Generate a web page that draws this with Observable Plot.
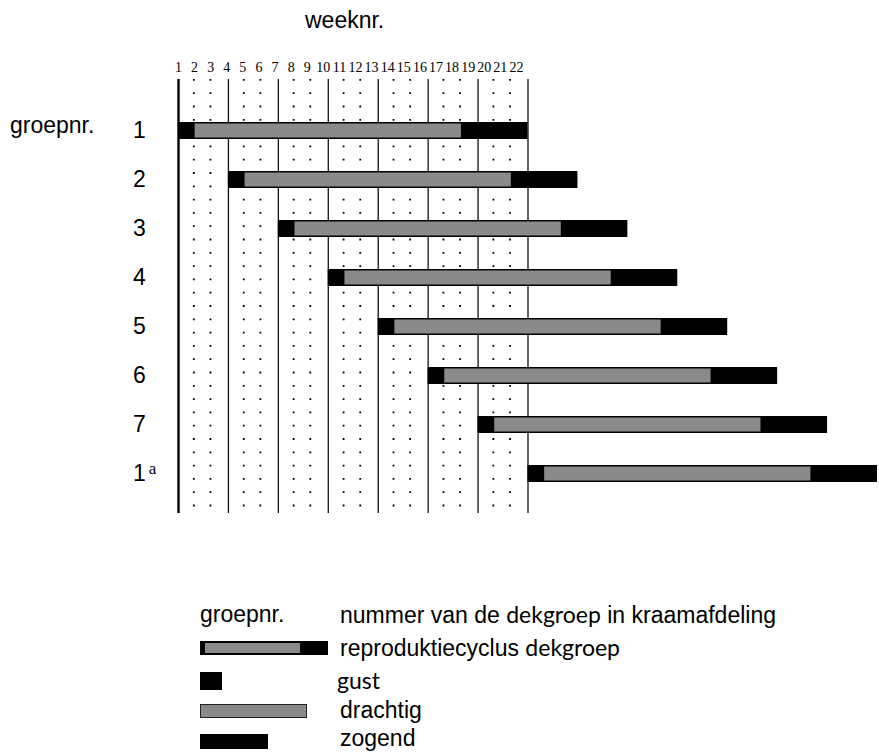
<!DOCTYPE html>
<html><head><meta charset="utf-8">
<script src="https://cdn.jsdelivr.net/npm/d3@7"></script>
<script src="https://cdn.jsdelivr.net/npm/@observablehq/plot@0.6"></script>
<style>
body{margin:0;background:#fff;}
#wrap{position:relative;width:879px;height:752px;overflow:hidden;font-family:"Liberation Sans",Arial,sans-serif;color:#000;}
#chart{position:absolute;left:0;top:0;}
.t{position:absolute;white-space:nowrap;font-size:23px;line-height:26px;}
.g{font-family:Lato,"Open Sans",sans-serif;}
.sw{position:absolute;background:#000;}
</style></head><body>
<div id="wrap">
 <div id="chart"></div>
 <div class="t" style="left:305px;top:7px">weeknr.</div>
 <div class="t" style="left:10px;top:112px">groepnr.</div>

 <div class="t" style="left:200px;top:601px">groepnr.</div>
 <div class="t" style="left:340px;top:601px">nummer van de <span class="g">dekgroep</span> in kraamafdeling</div>

 <div class="sw" style="left:200px;top:641px;width:128px;height:14px;"></div>
 <div class="sw" style="left:205px;top:643px;width:95px;height:10px;background:#8a8a8a;"></div>
 <div class="t" style="left:340px;top:634px">reproduktiecyclus <span class="g">dekgroep</span></div>

 <div class="sw" style="left:200px;top:672px;width:22px;height:18px;"></div>
 <div class="t g" style="left:337px;top:667px">gust</div>

 <div class="sw" style="left:200px;top:704px;width:107px;height:14px;background:#8a8a8a;border:1px solid #222;box-sizing:border-box;"></div>
 <div class="t" style="left:340px;top:697px">drachtig</div>

 <div class="sw" style="left:200px;top:734px;width:68px;height:15px;"></div>
 <div class="t" style="left:340px;top:725px">zogend</div>
</div>
<script>
const groups = ["1","2","3","4","5","6","7","1a"];
const startWeek = [0,3,6,9,12,15,18,21];
const gustWeeks = [1,1,1,1,1,1,1,1];
const drachtigWeeks = [16,16,16,16,16,16,16,16];
const zogendWeeks = [4,4,4,4,4,4,4,4];
const weekNumbers = [1,2,3,4,5,6,7,8,9,10,11,12,13,14,15,16,17,18,19,20,21,22];
const solidWeeks = [0,3,6,9,12,15,18,21];
const dottedWeeks = [1,2,4,5,7,8,10,11,13,14,16,17,19,20];

const rows = groups.map((g,i)=>({
  group:g,
  main:g.replace(/a$/,""),
  sup:g.endsWith("a")?"a":"",
  start:startWeek[i],
  gustEnd:startWeek[i]+gustWeeks[i],
  drachtEnd:startWeek[i]+gustWeeks[i]+drachtigWeeks[i],
  end:startWeek[i]+gustWeeks[i]+drachtigWeeks[i]+zogendWeeks[i]
}));

const chart = Plot.plot({
  width:879, height:540,
  marginLeft:178, marginRight:2, marginTop:79, marginBottom:27,
  x:{domain:[0,42], axis:null},
  y:{type:"band", domain:groups, range:[88.8,516.2], paddingInner:0.646, paddingOuter:0.646, axis:null},
  style:{background:"transparent", overflow:"visible"},
  marks:[
    Plot.ruleX(dottedWeeks,{x:d=>d-0.08, stroke:"#000", strokeWidth:1.8, strokeDasharray:"1.8 11.5"}),
    Plot.ruleX(solidWeeks.slice(1),{x:d=>d, stroke:"#111", strokeWidth:1.3}),
    Plot.ruleX(solidWeeks.slice(0,1),{x:d=>d, stroke:"#000", strokeWidth:2.4}),
    Plot.barX(rows,{x1:"start", x2:"end", y:"group", fill:"#000"}),
    Plot.barX(rows,{x1:"gustEnd", x2:"drachtEnd", y:"group", fill:"#8a8a8a", insetTop:1.5, insetBottom:1.5}),
    Plot.text(weekNumbers,{x:d=>(d-1)*0.967, text:d=>String(d), frameAnchor:"top", dy:-17, fontFamily:"Liberation Serif", fontSize:14, fill:"#000"}),
    Plot.text(rows,{x:()=>0, y:"group", text:"main", dx:-39, fontSize:23, fontFamily:"Liberation Sans", fill:"#000"}),
    Plot.text(rows,{x:()=>0, y:"group", text:"sup", dx:-26, dy:-5, fontSize:17, fontFamily:"Liberation Serif", fill:"#000"})
  ]
});
document.getElementById("chart").appendChild(chart);
</script>
</body></html>
